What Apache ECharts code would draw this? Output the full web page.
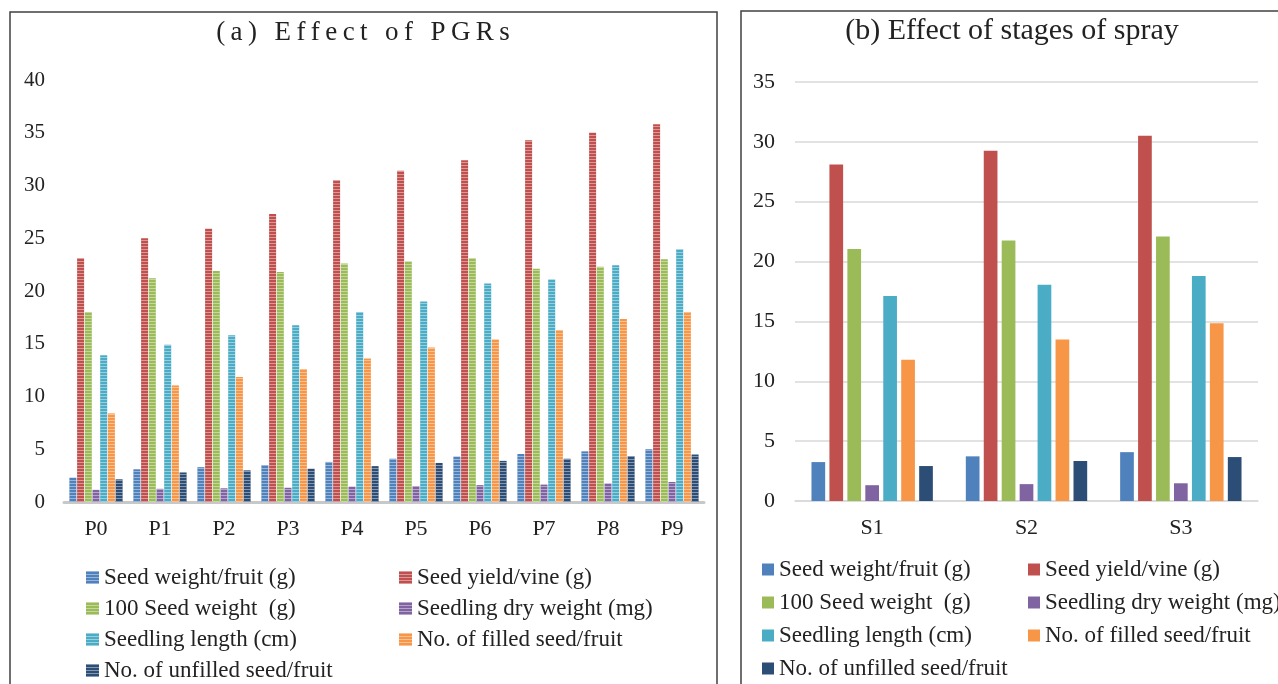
<!DOCTYPE html>
<html>
<head>
<meta charset="utf-8">
<script src="https://cdn.jsdelivr.net/npm/echarts@6.0.0/dist/echarts.min.js"></script>
<style>
  html, body { margin: 0; padding: 0; background: #fff; }
  #left { position: absolute; left: 0; top: 0; width: 730px; height: 684px; }
  #right { position: absolute; left: 730px; top: 0; width: 548px; height: 684px; }
</style>
</head>
<body>
<div id="left"></div>
<div id="right"></div>
<script>
// ---------- DATA ----------
const seriesNames = [
  'Seed weight/fruit (g)',
  'Seed yield/vine (g)',
  '100 Seed weight  (g)',
  'Seedling dry weight (mg)',
  'Seedling length (cm)',
  'No. of filled seed/fruit',
  'No. of unfilled seed/fruit'
];
const colors = ['#4F81BD', '#C0504D', '#9BBB59', '#8064A2', '#4BACC6', '#F79646', '#2C4D75'];

// (a) Effect of PGRs
const pgrCategories = ['P0', 'P1', 'P2', 'P3', 'P4', 'P5', 'P6', 'P7', 'P8', 'P9'];
const pgrSeedWeightFruit = [2.3, 3.1, 3.3, 3.5, 3.8, 4.1, 4.3, 4.55, 4.8, 5.0];
const pgrSeedYieldVine = [23.1, 25.0, 25.9, 27.3, 30.5, 31.4, 32.4, 34.3, 35.0, 35.8];
const pgrSeed100Weight = [18.0, 21.2, 21.9, 21.8, 22.6, 22.8, 23.1, 22.1, 22.3, 23.0];
const pgrSeedlingDryWeight = [1.15, 1.25, 1.3, 1.35, 1.45, 1.5, 1.6, 1.65, 1.75, 1.9];
const pgrSeedlingLength = [13.9, 14.9, 15.8, 16.75, 18.0, 19.0, 20.7, 21.1, 22.45, 23.95];
const pgrFilledSeed = [8.4, 11.05, 11.85, 12.6, 13.6, 14.65, 15.4, 16.3, 17.35, 18.0];
const pgrUnfilledSeed = [2.15, 2.8, 3.0, 3.15, 3.4, 3.7, 3.9, 4.1, 4.35, 4.5];
const pgrYTicks = { min: 0, max: 40, interval: 5 };

// (b) Effect of stages of spray
const stageCategories = ['S1', 'S2', 'S3'];
const stSeedWeightFruit = [3.25, 3.73, 4.08];
const stSeedYieldVine = [28.1, 29.25, 30.5];
const stSeed100Weight = [21.06, 21.77, 22.1];
const stSeedlingDryWeight = [1.32, 1.41, 1.48];
const stSeedlingLength = [17.13, 18.06, 18.8];
const stFilledSeed = [11.8, 13.5, 14.85];
const stUnfilledSeed = [2.92, 3.34, 3.67];
const stYTicks = { min: 0, max: 35, interval: 5 };

const titleA = '(a) Effect of PGRs';
const titleB = '(b) Effect of stages of spray';

// ---------- STYLE ----------
const FONT = '"Liberation Serif", "Times New Roman", serif';
const TXT = '#222';

const pgrData = [pgrSeedWeightFruit, pgrSeedYieldVine, pgrSeed100Weight, pgrSeedlingDryWeight,
                 pgrSeedlingLength, pgrFilledSeed, pgrUnfilledSeed];
const stData = [stSeedWeightFruit, stSeedYieldVine, stSeed100Weight, stSeedlingDryWeight,
                stSeedlingLength, stFilledSeed, stUnfilledSeed];

const stripeDecal = {
  symbol: 'rect', symbolSize: 1, symbolKeepAspect: false,
  color: 'rgba(255,255,255,0.42)', backgroundColor: null,
  dashArrayX: [1, 0], dashArrayY: [1, 2], rotation: 0,
  maxTileWidth: 512, maxTileHeight: 512
};

function legendCol(names, left, top, gap, size) {
  return {
    orient: 'vertical', left: left, top: top, padding: 0,
    width: 400, height: 300,
    itemWidth: size, itemHeight: size, itemGap: gap, icon: 'rect',
    selectedMode: false,
    data: names,
    textStyle: { fontFamily: FONT, fontSize: 23, lineHeight: 22, color: TXT, padding: 0 }
  };
}

// ---------- LEFT CHART ----------
const left = echarts.init(document.getElementById('left'), null, { renderer: 'canvas' });
left.setOption({
  animation: false,
  aria: { enabled: true, decal: { show: true } },
  graphic: [
    { type: 'rect', shape: { x: 10, y: 12, width: 707, height: 720 },
      style: { fill: 'none', stroke: '#404040', lineWidth: 1.5 }, silent: true },
    { type: 'text', x: 363, y: 33,
      style: { text: titleA.split('').join('\u2009'), fontFamily: FONT, fontSize: 27, fill: TXT,
               textAlign: 'center', textVerticalAlign: 'middle' } }
  ],
  grid: { left: 64, top: 80, width: 640, height: 422 },
  xAxis: {
    type: 'category', data: pgrCategories,
    axisLine: { lineStyle: { color: '#C8C8C8', width: 3 } },
    axisTick: { show: false },
    axisLabel: { fontFamily: FONT, fontSize: 22, color: TXT, margin: 16 }
  },
  yAxis: {
    type: 'value', min: pgrYTicks.min, max: pgrYTicks.max, interval: pgrYTicks.interval,
    splitLine: { show: false }, axisLine: { show: false }, axisTick: { show: false },
    axisLabel: { fontFamily: FONT, fontSize: 21, color: TXT, margin: 19 }
  },
  legend: [
    legendCol([seriesNames[0], seriesNames[2], seriesNames[4], seriesNames[6]], 86, 566, 8, 13),
    legendCol([seriesNames[1], seriesNames[3], seriesNames[5]], 399, 566, 8, 13)
  ],
  series: seriesNames.map((n, i) => ({
    name: n, type: 'bar', data: pgrData[i],
    barWidth: 7, barGap: '10%',
    itemStyle: { color: colors[i], decal: stripeDecal }
  }))
});

// ---------- RIGHT CHART ----------
const right = echarts.init(document.getElementById('right'), null, { renderer: 'canvas' });
right.setOption({
  animation: false,
  graphic: [
    { type: 'rect', shape: { x: 11, y: 11, width: 700, height: 720 },
      style: { fill: 'none', stroke: '#404040', lineWidth: 1.5 }, silent: true },
    { type: 'text', x: 282, y: 31,
      style: { text: titleB, fontFamily: FONT, fontSize: 30, fill: TXT,
               textAlign: 'center', textVerticalAlign: 'middle' } }
  ],
  grid: { left: 65, top: 82, width: 463, height: 419 },
  xAxis: {
    type: 'category', data: stageCategories,
    axisLine: { lineStyle: { color: '#D9D9D9', width: 1.5 } },
    axisTick: { show: false },
    axisLabel: { fontFamily: FONT, fontSize: 22, color: TXT, margin: 16 }
  },
  yAxis: {
    type: 'value', min: stYTicks.min, max: stYTicks.max, interval: stYTicks.interval,
    splitLine: { lineStyle: { color: '#D9D9D9', width: 1.5 } },
    axisLine: { show: false }, axisTick: { show: false },
    axisLabel: { fontFamily: FONT, fontSize: 22, color: TXT, margin: 20 }
  },
  legend: [
    legendCol([seriesNames[0], seriesNames[2], seriesNames[4], seriesNames[6]], 32, 558, 10, 12),
    legendCol([seriesNames[1], seriesNames[3], seriesNames[5]], 298, 558, 10, 12)
  ],
  series: seriesNames.map((n, i) => ({
    name: n, type: 'bar', data: stData[i],
    barWidth: 13.7, barGap: '31%',
    itemStyle: { color: colors[i] }
  }))
});
</script>
</body>
</html>
